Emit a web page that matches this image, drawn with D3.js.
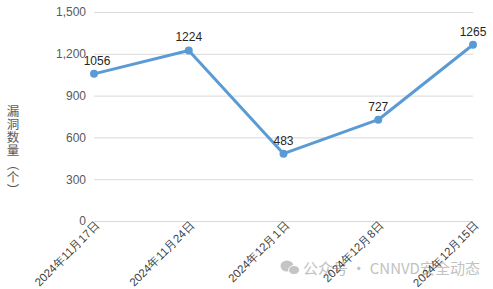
<!DOCTYPE html>
<html><head><meta charset="utf-8">
<script src="https://cdn.jsdelivr.net/npm/d3@7/dist/d3.min.js"></script>
<style>
html,body{margin:0;padding:0;background:#fff;}
svg{display:block;font-family:"Noto Sans CJK SC","Noto Sans",sans-serif;}
</style></head><body>
<svg id="c" width="493" height="289"></svg>
<script>
const categories = ["2024年11月17日","2024年11月24日","2024年12月1日","2024年12月8日","2024年12月15日"];
const values = [1056, 1224, 483, 727, 1265];
const yTicks = [0, 300, 600, 900, 1200, 1500];
const yTitle = ["漏","洞","数","量","︵","个","︶"];
const watermark = "公众号 · CNNVD安全动态";

const svg = d3.select("#c");
const x = d3.scalePoint().domain(categories).range([94, 473]).padding(0);
const y = d3.scaleLinear().domain([0, 1500]).range([221, 12]);

// watermark (behind)
const wm = svg.append("g");
wm.append("ellipse").attr("cx", 287).attr("cy", 266).attr("rx", 6.5).attr("ry", 5.5).attr("fill", "#c4c4c4");
wm.append("ellipse").attr("cx", 294).attr("cy", 270).attr("rx", 5.5).attr("ry", 4.5).attr("fill", "#c4c4c4").attr("stroke","#fff").attr("stroke-width",1);
wm.append("text").attr("x", 303).attr("y", 274).attr("font-size", 15).attr("fill", "#c2c2c2").text(watermark);

// gridlines + y labels
const yAxis = d3.axisLeft(y).tickValues(yTicks).tickSize(-(473 - 94)).tickPadding(8).tickFormat(d3.format(","));
const gy = svg.append("g").attr("transform", "translate(94,0)").call(yAxis);
gy.select(".domain").remove();
gy.selectAll(".tick line").attr("stroke", "#d9d9d9").attr("stroke-width", 1);
gy.selectAll(".tick text").attr("fill", "#595959").attr("font-size", 12).attr("font-family", "Liberation Sans, Arial, sans-serif");

// x labels
const xAxis = d3.axisBottom(x).tickSize(0).tickPadding(0);
const gx = svg.append("g").attr("transform", "translate(0,221)").call(xAxis);
gx.select(".domain").remove();
gx.selectAll(".tick text")
  .attr("fill", "#404040").attr("font-size", 11.5)
  .attr("text-anchor", "end").attr("dy", null).attr("y", 0)
  .attr("transform", "translate(6,5) rotate(-45)");

// y title (stacked characters)
svg.append("g").selectAll("text").data(yTitle).join("text")
  .attr("x", 13).attr("y", (d, i) => 110 + i * 13.3)
  .attr("dominant-baseline", "central").attr("text-anchor", "middle")
  .attr("font-size", 12.5).attr("fill", "#595959")
  .text(d => d);

// line
const line = d3.line().x((d, i) => x(categories[i])).y(d => y(d));
svg.append("path").datum(values).attr("d", line).attr("fill", "none").attr("stroke", "#5b9bd5").attr("stroke-width", 3).attr("stroke-linejoin", "round");
svg.selectAll("circle.pt").data(values).join("circle").attr("class", "pt")
  .attr("cx", (d, i) => x(categories[i])).attr("cy", d => y(d)).attr("r", 4).attr("fill", "#5b9bd5");

// data labels
svg.selectAll("text.lbl").data(values).join("text").attr("class", "lbl")
  .attr("x", (d, i) => x(categories[i]) + (i === 0 ? 3 : 0)).attr("y", d => y(d) - 9)
  .attr("text-anchor", "middle").attr("font-size", 12).attr("fill", "#262626")
  .attr("font-family", "Liberation Sans, Arial, sans-serif").text(d => d);
</script></body></html>
